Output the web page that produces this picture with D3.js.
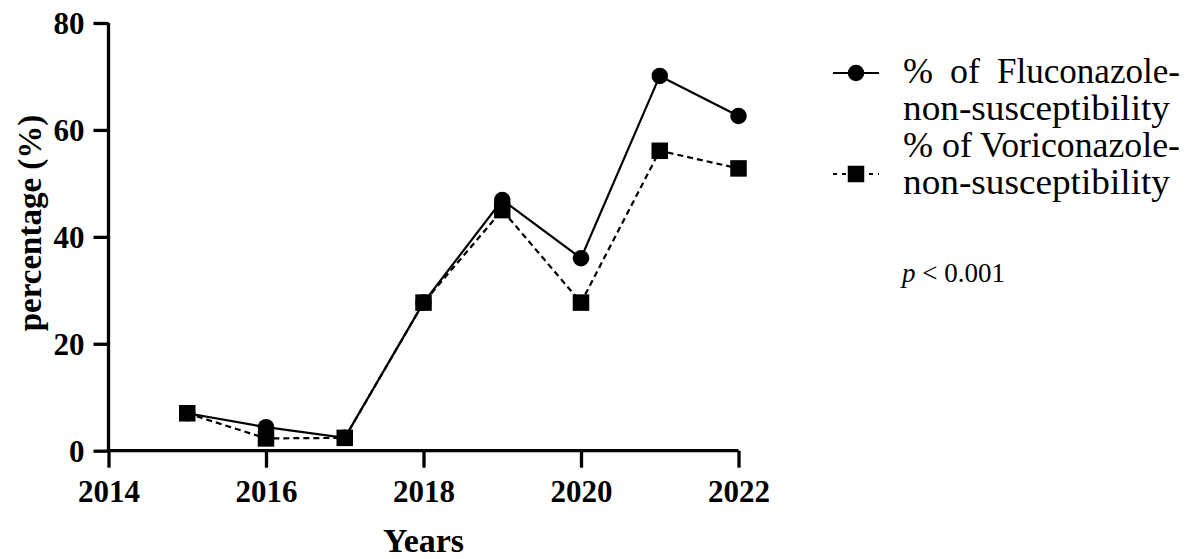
<!DOCTYPE html>
<html><head><meta charset="utf-8">
<script src="https://cdn.jsdelivr.net/npm/d3@7"></script>
<style>body{margin:0;background:#fff}svg{display:block}</style>
</head><body>
<svg id="c" width="1199" height="559"></svg>
<script>
const years = [2015, 2016, 2017, 2018, 2019, 2020, 2021, 2022];
const fluconazole = [7.0, 4.4, 2.4, 27.7, 46.9, 36.0, 70.1, 62.6];
const voriconazole = [7.0, 2.3, 2.4, 27.7, 45.0, 27.7, 56.1, 52.8];
const xTicks = [2014, 2016, 2018, 2020, 2022];
const yTicks = [0, 20, 40, 60, 80];
const legendLines = [
  ["%", "of", "Fluconazole-"],
  ["non-susceptibility"],
  ["%", "of", "Voriconazole-"],
  ["non-susceptibility"]
];

const svg = d3.select("#c");
const x = d3.scaleLinear().domain([2014, 2022]).range([108.5, 738.5]);
const y = d3.scaleLinear().domain([0, 80]).range([450.7, 23]);

const axisFont = "'Liberation Serif','Times New Roman',serif";

const ya = svg.append("g").attr("transform", `translate(${x(2014)},0)`)
  .call(d3.axisLeft(y).tickValues(yTicks).tickSize(15).tickPadding(9).tickFormat(d3.format("d")));
const xa = svg.append("g").attr("transform", `translate(0,${y(0)})`)
  .call(d3.axisBottom(x).tickValues(xTicks).tickSize(17).tickPadding(12).tickFormat(d3.format("d")));
[ya, xa].forEach(a => {
  a.select(".domain").attr("stroke", "#000").attr("stroke-width", 3.3);
  a.selectAll(".tick line").attr("stroke", "#000").attr("stroke-width", 3.3);
  a.selectAll(".tick text").attr("fill", "#000").style("font-family", axisFont)
    .style("font-weight", "bold").style("font-size", "31px");
});
ya.select(".domain").attr("d", `M0,${y(80)}V${y(0)}`);
xa.select(".domain").attr("d", `M0,0H${x(2022) - x(2014)}`).attr("transform", `translate(${x(2014)},0)`);
ya.selectAll(".tick text").attr("dy", "0.34em");

svg.append("text").attr("x", (x(2014) + x(2022)) / 2).attr("y", 552)
  .attr("text-anchor", "middle").style("font-family", axisFont).style("font-weight", "bold")
  .style("font-size", "34px").text("Years");
svg.append("text").attr("transform", "translate(41,223) rotate(-90)")
  .attr("text-anchor", "middle").style("font-family", axisFont).style("font-weight", "bold")
  .style("font-size", "33px").text("percentage (%)");

const line = d3.line().x((d, i) => x(years[i])).y(d => y(d));
svg.append("path").datum(fluconazole).attr("d", line).attr("fill", "none")
  .attr("stroke", "#000").attr("stroke-width", 2.2);
svg.append("path").datum(voriconazole).attr("d", line).attr("fill", "none")
  .attr("stroke", "#000").attr("stroke-width", 2.2).attr("stroke-dasharray", "6,4");

const ms = 16.5;
svg.selectAll("circle.f").data(fluconazole).enter().append("circle")
  .attr("cx", (d, i) => x(years[i])).attr("cy", d => y(d)).attr("r", ms / 2).attr("fill", "#000");
svg.selectAll("rect.v").data(voriconazole).enter().append("rect")
  .attr("x", (d, i) => x(years[i]) - ms / 2).attr("y", d => y(d) - ms / 2)
  .attr("width", ms).attr("height", ms).attr("fill", "#000");

// legend
const lg = svg.append("g");
lg.append("line").attr("x1", 833).attr("x2", 879).attr("y1", 73).attr("y2", 73)
  .attr("stroke", "#000").attr("stroke-width", 2.2);
lg.append("circle").attr("cx", 856).attr("cy", 73).attr("r", ms / 2);
lg.append("line").attr("x1", 833).attr("x2", 879).attr("y1", 174).attr("y2", 174)
  .attr("stroke", "#000").attr("stroke-width", 2.2).attr("stroke-dasharray", "4,5");
lg.append("rect").attr("x", 856 - ms / 2).attr("y", 174 - ms / 2).attr("width", ms).attr("height", ms);

const legFont = "'Liberation Serif','Times New Roman',serif";
const baselines = [83, 120, 157, 194];
// word start positions and target widths per line
const wordX = [[903, 950, 997], [903], [903, 942, 980], [903]];
const wordW = [[null, null, 183], [267], [null, null, 200], [267]];
legendLines.forEach((words, i) => {
  const t = lg.append("text").attr("y", baselines[i])
    .style("font-family", legFont).style("font-size", "36px").attr("fill", "#000");
  words.forEach((w, j) => {
    const ts = t.append("tspan").attr("x", wordX[i][j]).text(w);
    if (wordW[i][j]) ts.attr("textLength", wordW[i][j]).attr("lengthAdjust", "spacingAndGlyphs");
  });
});
const pt = lg.append("text").attr("x", 902).attr("y", 282)
  .style("font-family", legFont).style("font-size", "27px").attr("fill", "#000");
pt.append("tspan").style("font-style", "italic").text("p");
pt.append("tspan").text(" < 0.001");
</script>
</body></html>
